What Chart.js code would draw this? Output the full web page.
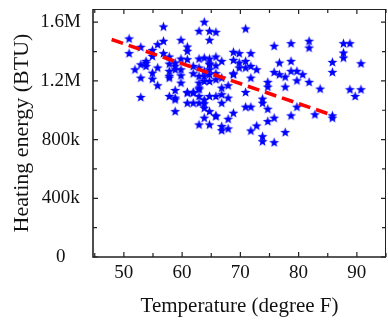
<!DOCTYPE html>
<html><head><meta charset="utf-8">
<script src="https://cdn.jsdelivr.net/npm/chart.js@4.4.1/dist/chart.umd.min.js"></script>
<style>html,body{margin:0;padding:0;background:#fff;overflow:hidden}
#wrap{position:relative;width:392px;height:322px}</style></head>
<body><div id="wrap"><canvas id="c"></canvas></div>
<script>
// ---- data ----
const temperatureF = [
  50.9,50.9, 51.9, 52.9,52.9,52.9,52.9, 53.8,53.8,53.8,
  54.9,54.9,54.9,54.9, 55.8,55.8,55.8, 56.8,56.8,56.8,
  57.8,57.8,57.8,57.8,57.8,57.8, 58.8,58.8,58.8,58.8,58.8,58.8,58.8,
  59.8,59.8,59.8,59.8,59.8, 60.9,60.9,60.9,60.9,60.9,60.9,
  61.9,61.9,61.9,61.9,61.9,
  62.9,62.9,62.9,62.9,62.9,62.9,62.9,62.9,62.9,62.9,
  63.8,63.8,63.8,63.8,63.8,63.8,63.8,63.8,63.8,
  64.7,64.7,64.7,64.7,64.7,64.7,64.7,64.7,64.7,64.7,64.7,
  65.8,65.8,65.8,65.8,65.8,65.8,65.8,65.8,
  66.8,66.8,66.8,66.8,66.8,66.8,66.8,
  67.9,67.9,67.9,67.9, 68.8,68.8,68.8,68.8,68.8, 69.8,69.8,69.8,
  70.9,70.9,70.9,70.9,70.9, 71.8,71.8,71.8,71.8,71.8, 72.8,72.8,
  73.8,73.8,73.8,73.8, 74.7,74.7,74.7,74.7, 75.8,75.8,75.8,75.8,
  76.7,76.7, 77.7,77.7,77.7, 78.7,78.7,78.7,78.7, 79.7,79.7,79.7,
  80.7, 81.8,81.8,81.8, 82.8, 83.7, 85.8,85.8,85.8,85.8,
  87.7,87.7,87.7, 88.8,88.8, 89.7, 90.7,90.7
];
const heatingBTU = [
  1486000,1386000, 1276000, 1429000,1310000,1219000,1087000, 1333000,1299000,1320000,
  1408000,1367000,1253000,1212000, 1447000,1288000,1167000, 1568000,1470000,1386000,
  1363000,1315000,1265000,1219000,1094000,1231000, 1322000,1276000,1135000,1083000,1071000,991000,1300000,
  1477000,1349000,1276000,1235000,1185000, 1431000,1402000,1345000,1121000,1048000,1117000,
  1299000,1249000,1121000,1048000,1117000,
  1538000,1349000,1231000,1185000,1140000,1094000,1048000,900000,1288000,1151000,
  1600000,1356000,1265000,1196000,1071000,1014000,946000,1044000,1230000,
  1538000,1477000,1349000,1310000,1276000,1242000,1196000,1094000,991000,900000,1316000,
  1531000,1363000,1303000,1208000,1094000,957000,962000,1250000,
  1333000,1219000,1151000,1048000,889000,861000,1106000,
  1167000,1083000,939000,873000, 1395000,1340000,1242000,980000,1249000, 1386000,1322000,1288000,
  1554000,1333000,1288000,1121000,1021000, 1386000,1299000,1219000,1021000,859000, 1276000,893000,
  1076000,1048000,820000,786000, 1190000,1158000,1007000,923000, 1436000,1258000,946000,779000,
  1322000,1242000, 1226000,1158000,848000, 1454000,1333000,1265000,962000, 1265000,1201000,1021000,
  1242000, 1470000,1424000,1190000, 969000, 1144000, 1326000,1258000,962000,946000,
  1454000,1390000,1356000, 1454000,1140000, 1094000, 1317000,1140000
];
const fitLineTemp = [47.9, 85.6];
const fitLineBTU = [1482000, 969000];
const xTickValues = [45,50,55,60,65,70,75,80,85,90,95];
const xTickLabels = {50:'50',60:'60',70:'70',80:'80',90:'90'};
const yTickValues = [0,200000,400000,600000,800000,1000000,1200000,1400000,1600000];
const yTickLabels = {0:'0',400000:'400k',800000:'800k',1200000:'1.2M',1600000:'1.6M'};

// ---- filled star marker ----
function makeStar(R, r, color){
  const s = Math.ceil(R*2)+2;
  const cv = document.createElement('canvas');
  cv.width = s; cv.height = s;
  const g = cv.getContext('2d');
  g.translate(s/2, s/2);
  g.beginPath();
  for (let i=0;i<10;i++){
    const rad = i%2===0 ? R : r;
    const a = -Math.PI/2 + i*Math.PI/5;
    const px = rad*Math.cos(a), py = rad*Math.sin(a);
    if (i===0) g.moveTo(px,py); else g.lineTo(px,py);
  }
  g.closePath();
  g.fillStyle = color; g.fill();
  return cv;
}
const starImg = makeStar(5.2, 2.2, '#0000ff');

const pts = temperatureF.map((t,i)=>({x:t, y:heatingBTU[i]}));
const fitPts = fitLineTemp.map((t,i)=>({x:t, y:fitLineBTU[i]}));

const FONT = "'Liberation Serif', 'Times New Roman', serif";

const frame = {
  id:'frame',
  afterDatasetsDraw(chart){
    const {ctx, chartArea:a, scales:{x,y}} = chart;
    ctx.save();
    ctx.strokeStyle = '#222';
    ctx.lineWidth = 1;
    ctx.beginPath();
    ctx.moveTo(a.left, a.top+0.5); ctx.lineTo(a.right, a.top+0.5);
    ctx.moveTo(a.right-0.5, a.top); ctx.lineTo(a.right-0.5, a.bottom);
    ctx.stroke();
    ctx.lineWidth = 1.6;
    ctx.beginPath();
    ctx.moveTo(a.left, a.top); ctx.lineTo(a.left, a.bottom);
    ctx.lineTo(a.right, a.bottom);
    ctx.stroke();
    ctx.lineWidth = 1.2;
    ctx.beginPath();
    x.ticks.forEach(t=>{
      const px = x.getPixelForValue(t.value);
      const len = xTickLabels[t.value] ? 5 : 4;
      ctx.moveTo(px, a.bottom); ctx.lineTo(px, a.bottom-len);
      ctx.moveTo(px, a.top); ctx.lineTo(px, a.top+len);
    });
    y.ticks.forEach(t=>{
      const py = y.getPixelForValue(t.value);
      const len = yTickLabels[t.value] ? 5 : 4;
      ctx.moveTo(a.left, py); ctx.lineTo(a.left+len, py);
      ctx.moveTo(a.right, py); ctx.lineTo(a.right-len, py);
    });
    ctx.stroke();
    ctx.restore();
  }
};

new Chart(document.getElementById('c'), {
  type:'scatter',
  data:{ datasets:[
    { type:'line', data: fitPts, borderColor:'#ff0000', borderWidth:3.6,
      borderDash:[12,6], pointRadius:0, fill:false, order:0 },
    { data: pts, pointStyle: starImg, pointRadius:5, order:1,
      backgroundColor:'#0000ff', borderColor:'#0000ff' }
  ]},
  options:{
    responsive:true, maintainAspectRatio:false, animation:false,
    layout:{ padding:{ top:9, right:2, left:0, bottom:0 } },
    plugins:{ legend:{display:false}, tooltip:{enabled:false} },
    scales:{
      x:{ type:'linear', min:44.7, max:95,
        grid:{display:false, drawTicks:false}, border:{display:false},
        afterBuildTicks(s){ s.ticks = xTickValues.map(v=>({value:v})); },
        afterFit(s){ s.height = 65; s.paddingLeft = 0; s.paddingRight = 0; },
        ticks:{ autoSkip:false, maxRotation:0, padding:5, color:'#111',
          font:{family:FONT, size:19},
          callback:(v)=> xTickLabels[v] || '' },
        title:{ display:true, text:'Temperature (degree F)', color:'#111',
          font:{family:FONT, size:21}, padding:{top:0,bottom:3} }
      },
      y:{ type:'linear', min:0, max:1690000,
        grid:{display:false, drawTicks:false}, border:{display:false},
        afterBuildTicks(s){ s.ticks = yTickValues.map(v=>({value:v})); },
        afterFit(s){ s.width = 93; s.paddingTop = 0; s.paddingBottom = 0; },
        ticks:{ autoSkip:false, crossAlign:'center', padding:12, color:'#111',
          font:{family:FONT, size:19},
          callback:(v)=> yTickLabels[v] || '' },
        title:{ display:true, text:'Heating energy (BTU)', color:'#111',
          font:{family:FONT, size:22}, padding:{top:9,bottom:0} }
      }
    }
  },
  plugins:[frame]
});
</script>
</body></html>
